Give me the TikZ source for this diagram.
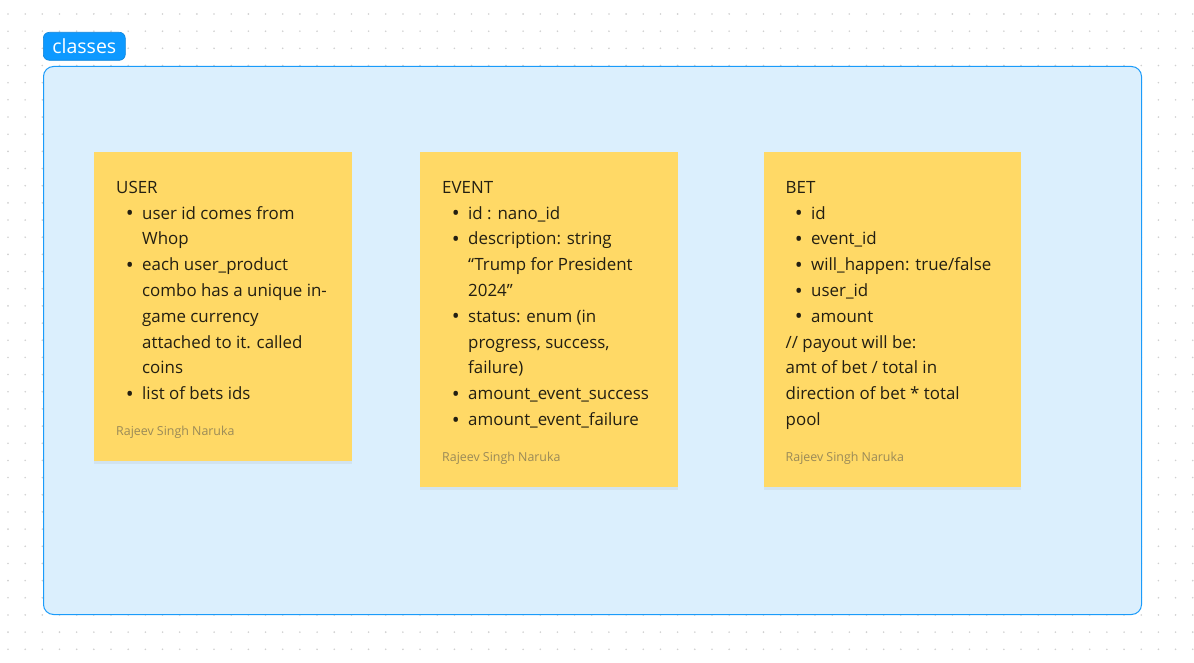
\documentclass[tikz,border=0pt]{standalone}
\usepackage{fontspec}
\setmainfont{Open Sans}
\usetikzlibrary{shadows}
\definecolor{dotc}{HTML}{D0D0D0}
\definecolor{framefill}{HTML}{DBEFFD}
\definecolor{frameline}{HTML}{1A9BFA}
\definecolor{figblue}{HTML}{0D99FF}
\definecolor{stickyc}{HTML}{FFD966}
\definecolor{inkc}{HTML}{231F12}
\definecolor{authorc}{HTML}{9A8A58}
\newcommand\bul{\llap{\raisebox{-1.6pt}{\fontsize{21}{21}\selectfont •}\hspace{8.5pt}}}
\tikzset{
  framebox/.style={draw=frameline, line width=1pt, fill=framefill, rounded corners=10pt, inner sep=0pt, anchor=north west},
  tagbox/.style={fill=figblue, draw=figblue!85!black, line width=0.6pt, rounded corners=6pt, inner sep=0pt, anchor=north west, text=white, font=\fontsize{19.5}{19.5}\selectfont},
  sticky/.style={fill=stickyc, inner sep=0pt, anchor=north west, minimum width=258pt,
     drop shadow={opacity=0.10, shadow xshift=0pt, shadow yshift=-2.5pt}},
  txt/.style={anchor=base west, inner sep=0pt, text=inkc, font=\fontsize{16.9}{20}\selectfont},
  author/.style={anchor=base west, inner sep=0pt, text=authorc, font=\fontsize{12.4}{14}\selectfont},
}
\begin{document}
\begin{tikzpicture}[x=1pt,y=-1pt]
\useasboundingbox (0,0) rectangle (1194,663);
\fill[white] (0,0) rectangle (1194,663);
\foreach \i in {0,...,69} \foreach \j in {0,...,38} \fill[dotc] ({8+17.17*\i},{14+17.17*\j}) circle (0.9pt);

\node[framebox, minimum width=1098pt, minimum height=548pt] (frame) at (43,66) {};
\node[tagbox, minimum width=82pt, minimum height=28pt] (tag) at (43,32) {classes};

% USER
\node[sticky, minimum height=309pt] (user) at (94,152) {};
\foreach \xx/\t [count=\k from 0] in {116/USER, 142/{\bul user id comes from}, 142/Whop, 142/{\bul each user\_product}, 142/{combo has a unique in-}, 142/{game currency}, 142/{attached to it. called}, 142/coins, 142/{\bul list of bets ids}}
  \node[txt] (u\k) at (\xx,{193.3+25.8*\k}) {\t};
\node[author] (ua) at (116,435) {Rajeev Singh Naruka};

% EVENT
\node[sticky, minimum height=335pt] (event) at (420,152) {};
\foreach \xx/\t [count=\k from 0] in {442/EVENT, 468/{\bul id : nano\_id}, 468/{\bul description: string}, 468/{“Trump for President}, 468/{2024”}, 468/{\bul status: enum (in}, 468/{progress, success,}, 468/{failure)}, 468/{\bul amount\_event\_success}, 468/{\bul amount\_event\_failure}}
  \node[txt] (e\k) at (\xx,{193.3+25.8*\k}) {\t};
\node[author] (ea) at (442,461) {Rajeev Singh Naruka};

% BET
\node[sticky, minimum height=335pt, minimum width=257pt] (bet) at (764,152) {};
\foreach \xx/\t [count=\k from 0] in {785.5/BET, 811/{\bul id}, 811/{\bul event\_id}, 811/{\bul will\_happen: true/false}, 811/{\bul user\_id}, 811/{\bul amount}, 785.5/{// payout will be:}, 785.5/{amt of bet / total in}, 785.5/{direction of bet * total}, 785.5/pool}
  \node[txt] (b\k) at (\xx,{193.3+25.8*\k}) {\t};
\node[author] (ba) at (785.5,461) {Rajeev Singh Naruka};
\end{tikzpicture}
\end{document}
